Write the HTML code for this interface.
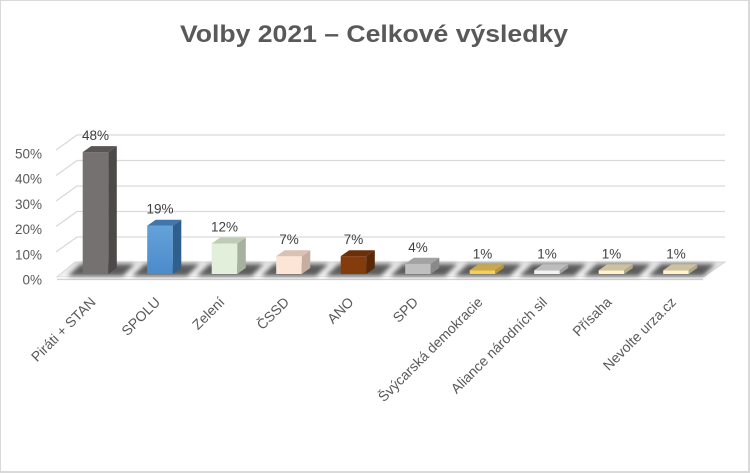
<!DOCTYPE html>
<html><head><meta charset="utf-8"><style>
html,body{margin:0;padding:0;background:#fff;}
svg{display:block;}
text{font-family:"Liberation Sans",Arial,sans-serif;}
</style></head><body>
<svg width="750" height="473" viewBox="0 0 750 473" xmlns="http://www.w3.org/2000/svg">
<defs>
<filter id="blur" x="-20%" y="-50%" width="140%" height="200%"><feGaussianBlur stdDeviation="2.2"/></filter>
<linearGradient id="floorg" x1="0" y1="0" x2="0" y2="1">
<stop offset="0" stop-color="#e2e2e2"/><stop offset="1" stop-color="#f3f3f3"/></linearGradient>
<linearGradient id="blueg" x1="0" y1="0" x2="0" y2="1">
<stop offset="0" stop-color="#64a2da"/><stop offset="1" stop-color="#4b8bca"/></linearGradient>
</defs>
<rect x="0" y="0" width="750" height="473" fill="#fff"/>
<!-- border -->
<rect x="0.5" y="0.5" width="748" height="471" fill="none" stroke="#d9d9d9" stroke-width="1"/>
<line x1="749" y1="0" x2="749" y2="473" stroke="#d9d9d9" stroke-width="2"/>
<line x1="0" y1="472" x2="750" y2="472" stroke="#d9d9d9" stroke-width="2"/>

<!-- title -->
<text x="180" y="42" font-size="24" font-weight="bold" fill="#595959" textLength="388" lengthAdjust="spacingAndGlyphs">Volby 2021 – Celkové výsledky</text>

<!-- gridlines -->
<g stroke="#d9d9d9" stroke-width="1.3" fill="none">
<polyline points="56,150 77,135 725,135"/>
<polyline points="56,175.5 77,160.5 725,160.5"/>
<polyline points="56,201 77,186 725,186"/>
<polyline points="56,226.5 77,211.5 725,211.5"/>
<polyline points="56,252 77,237 725,237"/>
</g>

<!-- floor -->
<polygon points="57,277 75,262 725,262 703,277" fill="url(#floorg)" stroke="#d6d6d6" stroke-width="1"/>
<rect x="57" y="277" width="646" height="2.5" fill="#f7f7f7"/>
<line x1="57" y1="279.5" x2="703" y2="279.5" stroke="#d3d3d3" stroke-width="1.3"/>

<!-- shadows -->
<g fill="#3c3c3c" opacity="0.82" filter="url(#blur)">
<polygon points="67.7,276 80.7,264 134.7,264 122.7,276"/>
<polygon points="132.2,276 145.2,264 199.2,264 187.2,276"/>
<polygon points="196.7,276 209.7,264 263.7,264 251.7,276"/>
<polygon points="261.2,276 274.2,264 328.2,264 316.2,276"/>
<polygon points="325.7,276 338.7,264 392.7,264 380.7,276"/>
<polygon points="390.2,276 403.2,264 457.2,264 445.2,276"/>
<polygon points="454.7,276 467.7,264 521.7,264 509.7,276"/>
<polygon points="519.2,276 532.2,264 586.2,264 574.2,276"/>
<polygon points="583.7,276 596.7,264 650.7,264 638.7,276"/>
<polygon points="648.2,276 661.2,264 715.2,264 703.2,276"/>
</g>

<!-- bars -->
<!-- 1 Pirati 48% top 152.1 -->
<g>
<rect x="82.7" y="152.1" width="25.6" height="121.9" fill="#767171"/>
<polygon points="108.3,152.1 116.8,146.1 116.8,268 108.3,274" fill="#4d4949"/>
<polygon points="82.7,152.1 91.2,146.1 116.8,146.1 108.3,152.1" fill="#595555"/>
</g>
<!-- 2 SPOLU 19% top 225.7 -->
<g>
<rect x="147.2" y="225.7" width="25.6" height="48.3" fill="url(#blueg)"/>
<polygon points="172.8,225.7 181.3,219.7 181.3,268 172.8,274" fill="#2f5f8f"/>
<polygon points="147.2,225.7 155.7,219.7 181.3,219.7 172.8,225.7" fill="#4275aa"/>
</g>
<!-- 3 Zeleni 12% top 243.5 -->
<g>
<rect x="211.7" y="243.5" width="25.6" height="30.5" fill="#e2efda"/>
<polygon points="237.3,243.5 245.8,237.5 245.8,268 237.3,274" fill="#a6b29d"/>
<polygon points="211.7,243.5 220.2,237.5 245.8,237.5 237.3,243.5" fill="#bfcbb5"/>
</g>
<!-- 4 CSSD 7% top 256.2 -->
<g>
<rect x="276.2" y="256.2" width="25.6" height="17.8" fill="#fce4d6"/>
<polygon points="301.8,256.2 310.3,250.2 310.3,268 301.8,274" fill="#c5ada0"/>
<polygon points="276.2,256.2 284.7,250.2 310.3,250.2 301.8,256.2" fill="#d9c1b3"/>
</g>
<!-- 5 ANO 7% -->
<g>
<rect x="340.7" y="256.2" width="25.6" height="17.8" fill="#843c0c"/>
<polygon points="366.3,256.2 374.8,250.2 374.8,268 366.3,274" fill="#592807"/>
<polygon points="340.7,256.2 349.2,250.2 374.8,250.2 366.3,256.2" fill="#6b2f09"/>
</g>
<!-- 6 SPD 4% top 263.8 -->
<g>
<rect x="405.2" y="263.8" width="25.6" height="10.2" fill="#bfbfbf"/>
<polygon points="430.8,263.8 439.3,257.8 439.3,268 430.8,274" fill="#898989"/>
<polygon points="405.2,263.8 413.7,257.8 439.3,257.8 430.8,263.8" fill="#a3a3a3"/>
</g>
<!-- 7 Svycarska 1% top 270.2 -->
<g>
<rect x="469.7" y="270.2" width="25.6" height="3.8" fill="#f7cf57"/>
<polygon points="495.3,270.2 503.8,264.2 503.8,268 495.3,274" fill="#b3953b"/>
<polygon points="469.7,270.2 478.2,264.2 503.8,264.2 495.3,270.2" fill="#c9a84b"/>
</g>
<!-- 8 Aliance -->
<g>
<rect x="534.2" y="270.2" width="25.6" height="3.8" fill="#f2f2f2"/>
<polygon points="559.8,270.2 568.3,264.2 568.3,268 559.8,274" fill="#a0a0a0"/>
<polygon points="534.2,270.2 542.7,264.2 568.3,264.2 559.8,270.2" fill="#bdbdbd"/>
</g>
<!-- 9 Prisaha -->
<g>
<rect x="598.7" y="270.2" width="25.6" height="3.8" fill="#fff2cc"/>
<polygon points="624.3,270.2 632.8,264.2 632.8,268 624.3,274" fill="#b3a889"/>
<polygon points="598.7,270.2 607.2,264.2 632.8,264.2 624.3,270.2" fill="#cdc19f"/>
</g>
<!-- 10 Nevolte -->
<g>
<rect x="663.2" y="270.2" width="25.6" height="3.8" fill="#fff2cc"/>
<polygon points="688.8,270.2 697.3,264.2 697.3,268 688.8,274" fill="#b3a889"/>
<polygon points="663.2,270.2 671.7,264.2 697.3,264.2 688.8,270.2" fill="#cdc19f"/>
</g>

<!-- data labels -->
<g font-size="13.5" fill="#404040" text-anchor="middle">
<text x="95.5" y="140">48%</text>
<text x="160" y="213.7">19%</text>
<text x="224.5" y="231.5">12%</text>
<text x="289" y="244.2">7%</text>
<text x="353.5" y="244.2">7%</text>
<text x="418" y="251.8">4%</text>
<text x="482.5" y="258.5">1%</text>
<text x="547" y="258.5">1%</text>
<text x="611.5" y="258.5">1%</text>
<text x="676" y="258.5">1%</text>
</g>

<!-- y axis labels -->
<g font-size="13.5" fill="#595959" text-anchor="end">
<text x="42" y="158.5">50%</text>
<text x="42" y="183.7">40%</text>
<text x="42" y="208.9">30%</text>
<text x="42" y="234.1">20%</text>
<text x="42" y="259.3">10%</text>
<text x="42" y="284.5">0%</text>
</g>

<!-- category labels -->
<g font-size="14" fill="#595959" text-anchor="end">
<text transform="translate(96.5,303) rotate(-45)">Piráti + STAN</text>
<text transform="translate(161,303) rotate(-45)">SPOLU</text>
<text transform="translate(225.5,303) rotate(-45)">Zelení</text>
<text transform="translate(290,303) rotate(-45)">ČSSD</text>
<text transform="translate(354.5,303) rotate(-45)">ANO</text>
<text transform="translate(419,303) rotate(-45)">SPD</text>
<text transform="translate(483.5,303) rotate(-45)">Švýcarská demokracie</text>
<text transform="translate(548,303) rotate(-45)">Aliance národních sil</text>
<text transform="translate(612.5,303) rotate(-45)">Přísaha</text>
<text transform="translate(677,303) rotate(-45)">Nevolte urza.cz</text>
</g>
</svg>
</body></html>
